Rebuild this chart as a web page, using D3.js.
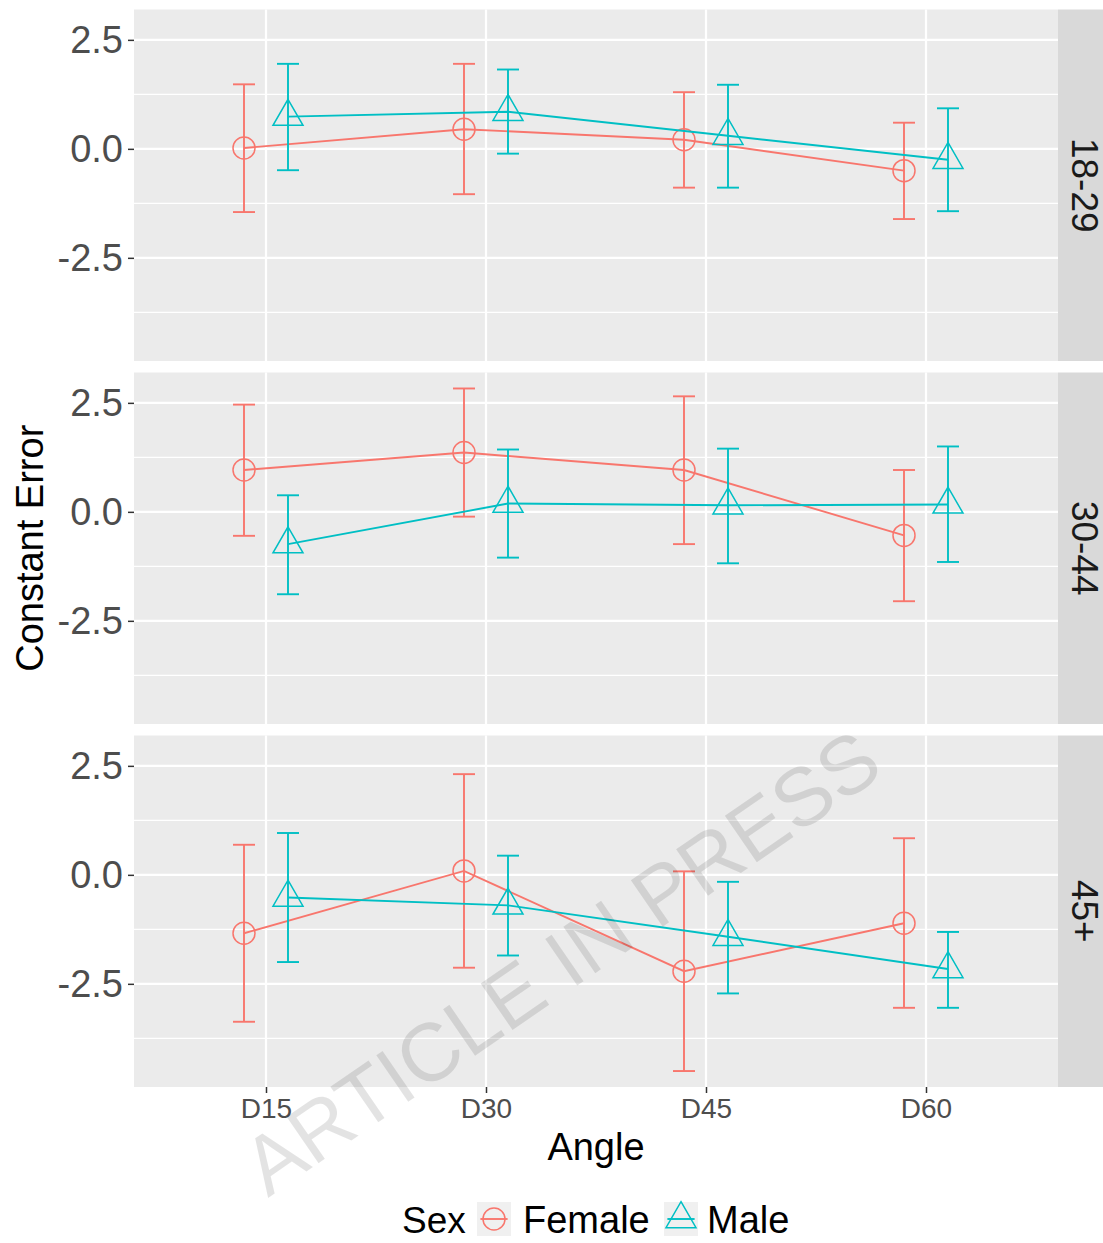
<!DOCTYPE html>
<html><head><meta charset="utf-8">
<script src="https://cdn.jsdelivr.net/npm/d3@7"></script>
<style>
body{margin:0;background:#fff}
text{font-family:"Liberation Sans", Arial, Helvetica, sans-serif}
</style>
</head><body>
<svg id="chart" width="1103" height="1243"></svg>
<script>
// ---------- data ----------
const ageGroups = ["18-29", "30-44", "45+"];
const angles = ["D15", "D30", "D45", "D60"];
const sexes = ["Female", "Male"];

// rows = age groups, columns = angles
const femaleMean  = [[0.02, 0.45, 0.21, -0.50], [0.96, 1.36, 0.96, -0.54], [-1.34, 0.09, -2.21, -1.11]];
const femaleLower = [[-1.45, -1.04, -0.89, -1.61], [-0.55, -0.11, -0.74, -2.05], [-3.37, -2.13, -4.50, -3.05]];
const femaleUpper = [[1.48, 1.95, 1.30, 0.60], [2.46, 2.83, 2.65, 0.96], [0.69, 2.31, 0.08, 0.84]];

const maleMean  = [[0.74, 0.85, 0.30, -0.25], [-0.74, 0.19, 0.15, 0.17], [-0.52, -0.70, -1.42, -2.16]];
const maleLower = [[-0.49, -0.11, -0.89, -1.43], [-1.89, -1.05, -1.18, -1.15], [-2.00, -1.85, -2.72, -3.05]];
const maleUpper = [[1.95, 1.82, 1.47, 0.93], [0.38, 1.43, 1.45, 1.50], [0.96, 0.44, -0.16, -1.31]];

const yTicks = [-2.5, 0, 2.5];
const yMinorTicks = [-3.75, -1.25, 1.25];

const xTitle = "Angle";
const yTitle = "Constant Error";
const legendTitle = "Sex";
const watermark = "ARTICLE IN PRESS";

// ---------- layout ----------
const W = 1103, H = 1243;
const panelLeft = 134, panelRight = 1058;
const panelTop0 = 9.5, panelH = 351.5, panelGap = 11.5;
const stripRight = 1103;
const colors = {Female: "#F8766D", Male: "#00BFC4"};
const series = {
  Female: {mean: femaleMean, lower: femaleLower, upper: femaleUpper},
  Male: {mean: maleMean, lower: maleLower, upper: maleUpper}
};
const dodge = {Female: -0.1, Male: 0.1};

const svg = d3.select("#chart");
svg.append("rect").attr("width", W).attr("height", H).attr("fill", "#fff");

const x = d3.scalePoint().domain(angles).range([panelLeft, panelRight]).padding(0.6);
const step = x.step();

const allVals = [].concat(...femaleLower, ...femaleUpper, ...maleLower, ...maleUpper);
const yMin = d3.min(allVals), yMax = d3.max(allVals);
const ex = (yMax - yMin) * 0.05;

const triH = 26, triW = 30;
const triPath = `M0,${-triH * 2 / 3}L${triW / 2},${triH / 3}L${-triW / 2},${triH / 3}Z`;

ageGroups.forEach((age, p) => {
  const top = panelTop0 + p * (panelH + panelGap);
  const y = d3.scaleLinear().domain([yMin - ex, yMax + ex]).range([top + panelH, top]);
  const g = svg.append("g");

  g.append("rect").attr("x", panelLeft).attr("y", top)
    .attr("width", panelRight - panelLeft).attr("height", panelH).attr("fill", "#EBEBEB");

  g.selectAll(".minor").data(yMinorTicks).join("line")
    .attr("x1", panelLeft).attr("x2", panelRight)
    .attr("y1", d => y(d)).attr("y2", d => y(d))
    .attr("stroke", "#fff").attr("stroke-width", 1.1);
  g.selectAll(".major").data(yTicks).join("line")
    .attr("x1", panelLeft).attr("x2", panelRight)
    .attr("y1", d => y(d)).attr("y2", d => y(d))
    .attr("stroke", "#fff").attr("stroke-width", 2.2);
  g.selectAll(".vmajor").data(angles).join("line")
    .attr("x1", d => x(d)).attr("x2", d => x(d))
    .attr("y1", top).attr("y2", top + panelH)
    .attr("stroke", "#fff").attr("stroke-width", 2.2);

  // strip
  g.append("rect").attr("x", panelRight).attr("y", top)
    .attr("width", stripRight - panelRight).attr("height", panelH).attr("fill", "#D9D9D9");
  g.append("text")
    .attr("transform", `translate(${panelRight + 26},${top + panelH / 2}) rotate(90)`)
    .attr("text-anchor", "middle").attr("dominant-baseline", "central")
    .attr("font-size", 37).attr("fill", "#1A1A1A").text(age);

  // y axis
  const ya = d3.axisLeft(y).tickValues(yTicks).tickFormat(d => d.toFixed(1)).tickSize(6).tickPadding(5);
  const yg = g.append("g").attr("transform", `translate(${panelLeft},0)`).call(ya);
  yg.select(".domain").remove();
  yg.selectAll("line").attr("stroke", "#333333").attr("stroke-width", 1.5);
  yg.selectAll("text").attr("font-size", 38).attr("fill", "#4D4D4D")
    .style("font-family", '"Liberation Sans", Arial, sans-serif');

  sexes.forEach(s => {
    const d = series[s];
    const pts = angles.map((a, i) => ({
      x: x(a) + dodge[s] * step,
      m: d.mean[p][i], lo: d.lower[p][i], hi: d.upper[p][i]
    }));
    const col = colors[s];
    const cap = 0.05 * step;
    const eb = g.append("g");
    pts.forEach(pt => {
      eb.append("line").attr("x1", pt.x).attr("x2", pt.x).attr("y1", y(pt.lo)).attr("y2", y(pt.hi))
        .attr("stroke", col).attr("stroke-width", 1.9);
      eb.append("line").attr("x1", pt.x - cap).attr("x2", pt.x + cap).attr("y1", y(pt.lo)).attr("y2", y(pt.lo))
        .attr("stroke", col).attr("stroke-width", 1.9);
      eb.append("line").attr("x1", pt.x - cap).attr("x2", pt.x + cap).attr("y1", y(pt.hi)).attr("y2", y(pt.hi))
        .attr("stroke", col).attr("stroke-width", 1.9);
    });
    g.append("path").datum(pts)
      .attr("d", d3.line().x(q => q.x).y(q => y(q.m)))
      .attr("fill", "none").attr("stroke", col).attr("stroke-width", 1.9);
    if (s === "Female") {
      g.selectAll(null).data(pts).join("circle")
        .attr("cx", q => q.x).attr("cy", q => y(q.m)).attr("r", 11)
        .attr("fill", "none").attr("stroke", col).attr("stroke-width", 1.5);
    } else {
      g.selectAll(null).data(pts).join("path")
        .attr("transform", q => `translate(${q.x},${y(q.m)})`).attr("d", triPath)
        .attr("fill", "none").attr("stroke", col).attr("stroke-width", 1.5);
    }
  });

  if (p === ageGroups.length - 1) {
    const xa = d3.axisBottom(x).tickSize(6).tickPadding(5);
    const xg = g.append("g").attr("transform", `translate(0,${top + panelH})`).call(xa);
    xg.select(".domain").remove();
    xg.selectAll("line").attr("stroke", "#333333").attr("stroke-width", 1.5);
    xg.selectAll("text").attr("font-size", 28).attr("fill", "#4D4D4D")
      .style("font-family", '"Liberation Sans", Arial, sans-serif');
  }
});

// axis titles
svg.append("text").attr("x", (panelLeft + panelRight) / 2).attr("y", 1160)
  .attr("text-anchor", "middle").attr("font-size", 38).attr("fill", "#000").text(xTitle);
const plotMid = panelTop0 + (3 * panelH + 2 * panelGap) / 2;
svg.append("text").attr("transform", `translate(43,${plotMid}) rotate(-90)`)
  .attr("text-anchor", "middle").attr("font-size", 38).attr("fill", "#000").text(yTitle);

// legend
const legY = 1219, legBase = 1233;
const lg = svg.append("g");
lg.append("text").attr("x", 402).attr("y", legBase).attr("font-size", 37).attr("fill", "#000").text(legendTitle);
const keyX = {Female: 477, Male: 664};
const labX = {Female: 523, Male: 707};
sexes.forEach(s => {
  const kx = keyX[s], ks = 34;
  lg.append("rect").attr("x", kx).attr("y", legY - ks / 2).attr("width", ks).attr("height", ks).attr("fill", "#F0F0F0");
  lg.append("line").attr("x1", kx + ks * 0.1).attr("x2", kx + ks * 0.9).attr("y1", legY).attr("y2", legY)
    .attr("stroke", colors[s]).attr("stroke-width", 1.9);
  if (s === "Female") {
    lg.append("circle").attr("cx", kx + ks / 2).attr("cy", legY).attr("r", 11)
      .attr("fill", "none").attr("stroke", colors[s]).attr("stroke-width", 1.5);
  } else {
    lg.append("path").attr("transform", `translate(${kx + ks / 2},${legY})`).attr("d", triPath)
      .attr("fill", "none").attr("stroke", colors[s]).attr("stroke-width", 1.5);
  }
  lg.append("text").attr("x", labX[s]).attr("y", legBase).attr("font-size", 38).attr("fill", "#000").text(s);
});

// watermark
svg.append("text").attr("transform", "translate(268,1198) rotate(-34.5)")
  .attr("font-size", 82).attr("fill", "#000").attr("fill-opacity", 0.11).text(watermark);
</script>
</body></html>
